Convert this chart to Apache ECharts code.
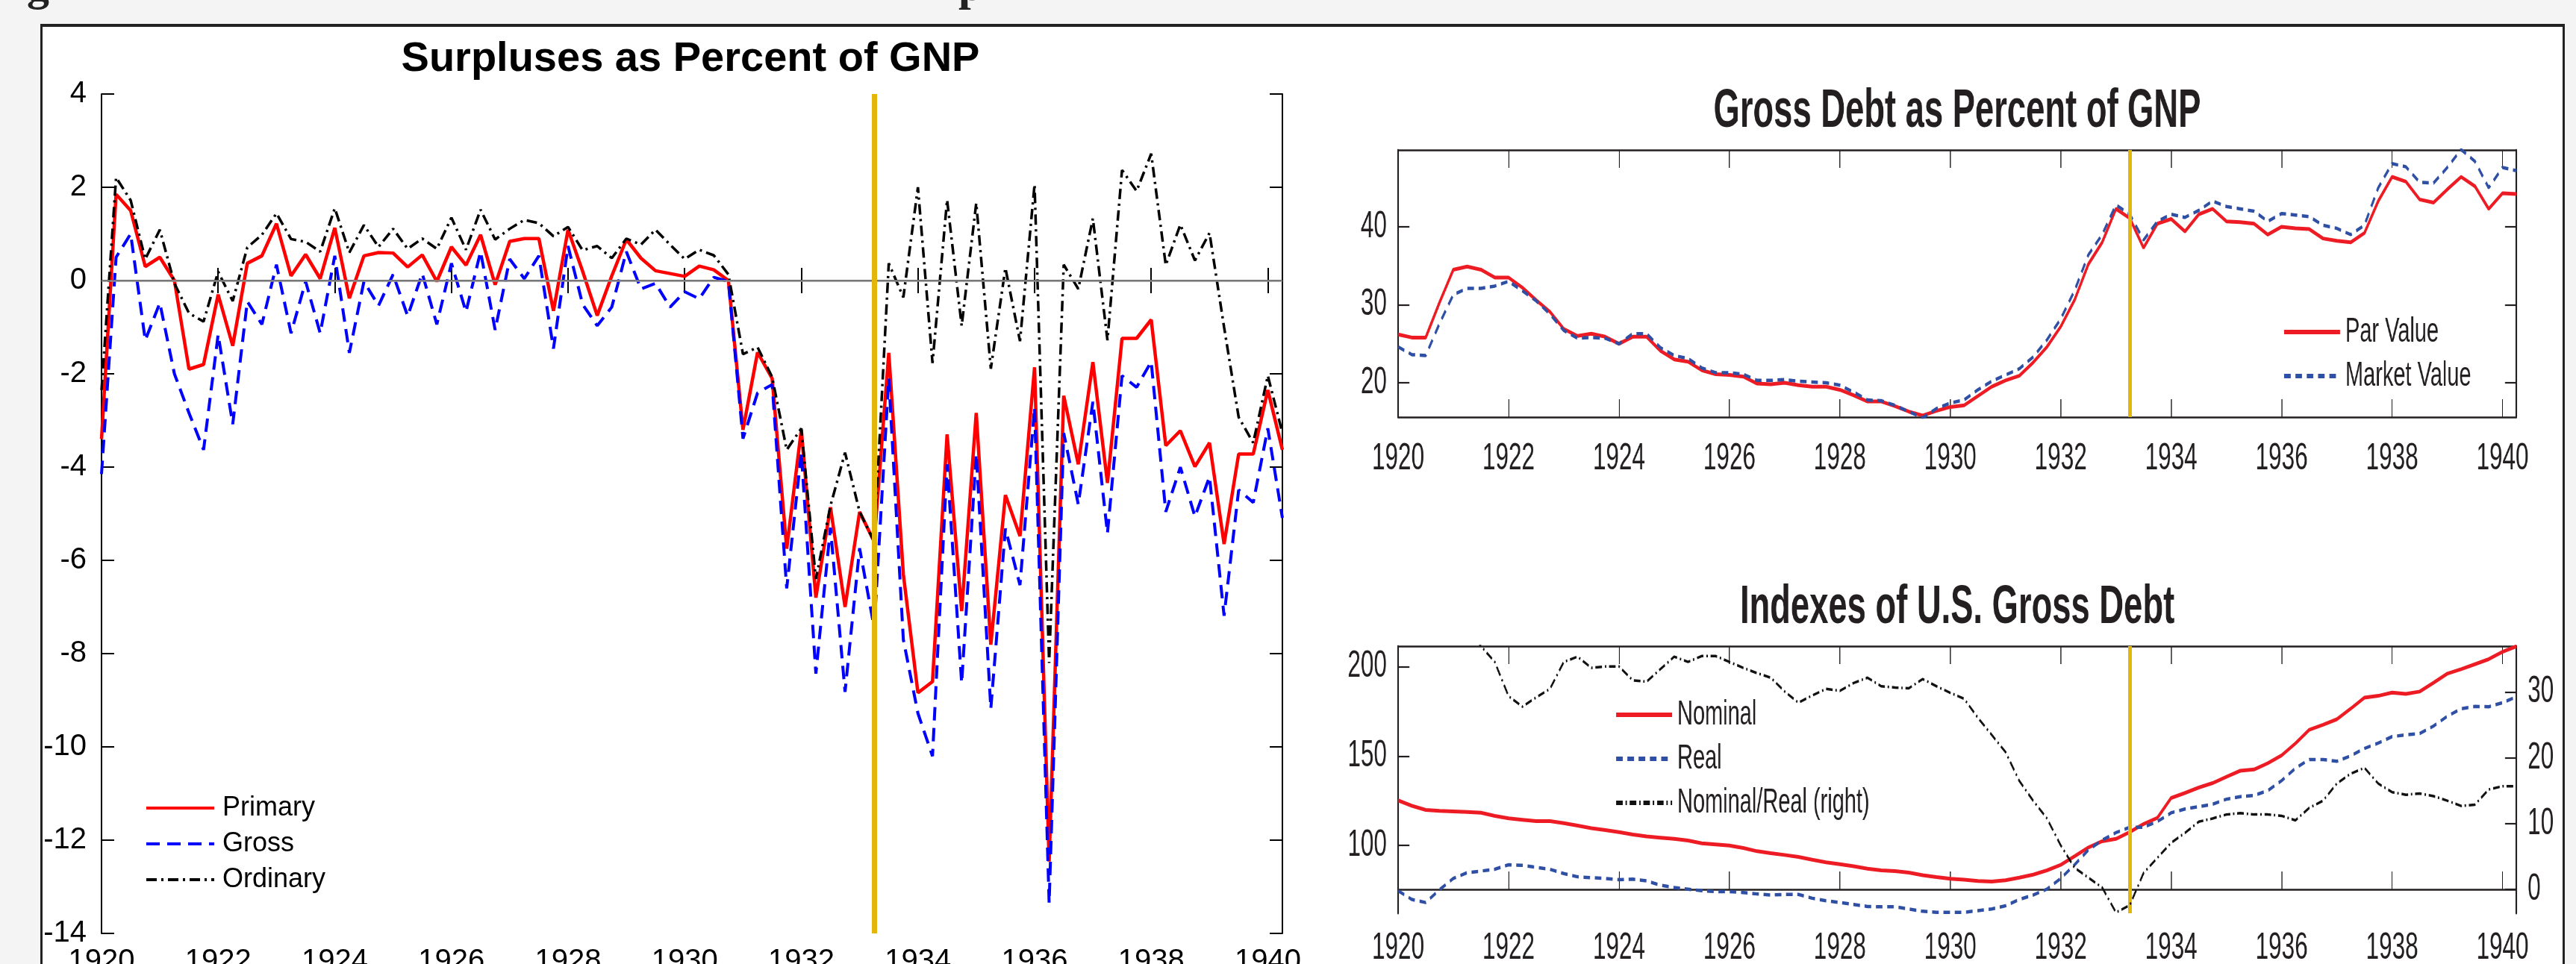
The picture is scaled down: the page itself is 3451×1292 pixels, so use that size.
<!DOCTYPE html>
<html>
<head>
<meta charset="utf-8">
<title>Surpluses and Gross Debt, 1920-1940</title>
<script src="https://cdn.jsdelivr.net/npm/echarts@6/dist/echarts.min.js"></script>
<style>
  html, body { margin: 0; padding: 0; background: #f3f4f3; overflow: hidden; }
  body { width: 3451px; height: 1292px; position: relative; }
  #panel { position: absolute; left: 54px; top: 32px; width: 3376px; height: 1400px; background: #fff; border: 3px solid #222; border-top-width: 4px; }
  #chartLeft { position: absolute; left: 0; top: 0; width: 1760px; height: 1400px; }
  #chartRight { position: absolute; left: 1700px; top: 0; width: 2780px; height: 1400px; transform: scaleX(0.63); transform-origin: 0 0; }
  .cap { position: absolute; top: -50px; font: bold 60px/60px "Liberation Serif", serif; color: #222; }
</style>
</head>
<body>
<div class="cap" style="left:36px">g</div>
<div class="cap" style="left:1284px">p</div>
<div id="panel"></div>
<div id="chartLeft"></div>
<div id="chartRight"></div>
<script>
// quarterly observations, 1920Q1 .. 1940Q2
const tickYears = [1920, 1922, 1924, 1926, 1928, 1930, 1932, 1934, 1936, 1938, 1940]
const quarters = []
for (let y = 1920; y <= 1940; y++) {
  for (let q = 0; q < 4; q++) {
    if (quarters.length < 82) quarters.push(y + q / 4)
  }
}
const fdrDate = 1933.25

// Surpluses as Percent of GNP
const primary = [
  -3.4, 1.85, 1.5, 0.3, 0.5, 0.0, -1.9, -1.8, -0.3, -1.4,
  0.37, 0.53, 1.22, 0.1, 0.56, 0.04, 1.13, -0.38, 0.53, 0.6,
  0.59, 0.29, 0.55, -0.02, 0.72, 0.33, 0.98, -0.09, 0.84, 0.9,
  0.9, -0.65, 1.09, 0.2, -0.75, 0.1, 0.88, 0.48, 0.21, 0.15,
  0.09, 0.31, 0.23, 0.0, -3.2, -1.54, -2.1, -5.75, -3.2, -6.8,
  -4.86, -7.0, -4.96, -5.6, -1.55, -6.3, -8.84, -8.6, -3.3, -7.09,
  -2.84, -7.81, -4.6, -5.48, -1.86, -12.46, -2.47, -3.94, -1.75, -4.34,
  -1.24, -1.24, -0.84, -3.54, -3.22, -3.99, -3.48, -5.65, -3.72, -3.72,
  -2.35, -3.63
]
const gross = [
  -4.15, 0.5, 1.0, -1.28, -0.48, -2.0, -2.84, -3.63, -1.16, -3.08,
  -0.45, -0.94, 0.34, -1.13, -0.02, -1.13, 0.53, -1.55, -0.02, -0.54,
  0.13, -0.76, 0.15, -0.94, 0.37, -0.67, 0.62, -1.06, 0.46, 0.04,
  0.53, -1.46, 0.74, -0.51, -0.97, -0.57, 0.62, -0.18, -0.06, -0.57,
  -0.24, -0.39, 0.07, -0.02, -3.39, -2.41, -2.23, -6.6, -3.69, -8.43,
  -5.3, -8.82, -5.74, -7.45, -2.1, -7.7, -9.28, -10.2, -3.94, -8.63,
  -3.72, -9.18, -5.32, -6.53, -2.72, -13.35, -3.27, -4.8, -2.6, -5.42,
  -2.04, -2.29, -1.74, -4.96, -4.0, -5.06, -4.21, -7.19, -4.49, -4.76,
  -3.17, -5.09
]
const ordinary = [
  -2.35, 2.21, 1.72, 0.46, 1.09, -0.06, -0.7, -0.88, 0.19, -0.44,
  0.71, 0.98, 1.44, 0.89, 0.83, 0.62, 1.55, 0.6, 1.19, 0.72,
  1.11, 0.68, 0.9, 0.68, 1.35, 0.66, 1.52, 0.88, 1.11, 1.3,
  1.23, 0.95, 1.15, 0.65, 0.74, 0.48, 0.9, 0.77, 1.09, 0.77,
  0.46, 0.66, 0.54, 0.13, -1.58, -1.43, -2.07, -3.63, -3.17, -6.4,
  -4.83, -3.69, -4.96, -5.6, 0.37, -0.36, 2.0, -1.77, 1.73, -0.97,
  1.66, -1.89, 0.27, -1.3, 2.06, -8.2, 0.34, -0.18, 1.33, -1.28,
  2.37, 1.92, 2.72, 0.33, 1.2, 0.43, 1.02, -1.0, -2.93, -3.48,
  -2.04, -3.27
]

// Gross Debt as Percent of GNP
const parValue = [
  26.2, 25.8, 25.8, 30.3, 34.5, 34.9, 34.5, 33.5, 33.5, 32.2,
  30.6, 29.1, 26.9, 26.0, 26.3, 25.9, 25.0, 25.9, 25.9, 24.1,
  23.0, 22.7, 21.6, 21.1, 21.0, 20.8, 19.9, 19.8, 20.0, 19.7,
  19.5, 19.5, 19.1, 18.4, 17.6, 17.6, 17.0, 16.3, 15.8, 16.4,
  16.9, 17.1, 18.3, 19.5, 20.3, 20.9, 22.6, 24.6, 27.2, 30.6,
  35.2, 38.0, 42.3, 41.1, 37.3, 40.4, 41.0, 39.4, 41.6, 42.3,
  40.7, 40.6, 40.4, 39.0, 40.0, 39.8, 39.7, 38.5, 38.2, 38.0,
  39.2, 43.3, 46.4, 45.8, 43.5, 43.1, 44.8, 46.4, 45.2, 42.3,
  44.3, 44.2
]
const marketValue = [
  24.6, 23.6, 23.5, 27.6, 31.3, 32.1, 32.1, 32.4, 33.0, 31.8,
  30.5, 28.8, 26.7, 25.7, 25.8, 25.7, 25.0, 26.3, 26.3, 24.5,
  23.5, 23.1, 21.9, 21.3, 21.3, 21.1, 20.3, 20.3, 20.4, 20.2,
  20.1, 20.0, 19.7, 18.8, 17.8, 17.7, 17.1, 16.3, 15.5, 16.7,
  17.4, 17.8, 19.1, 20.2, 21.0, 21.8, 23.3, 25.5, 28.2, 31.8,
  36.4, 39.0, 42.8, 41.6, 38.3, 40.7, 41.6, 41.2, 42.1, 43.3,
  42.6, 42.3, 42.0, 40.7, 41.7, 41.5, 41.3, 40.2, 39.8, 39.0,
  40.2, 45.0, 48.1, 47.7, 45.7, 45.6, 47.6, 49.9, 48.4, 45.0,
  47.6, 47.2
]

// Indexes of U.S. Gross Debt
const nominal = [
  125.2, 122.2, 119.9, 119.4, 119.1, 118.8, 118.3, 116.6, 115.2, 114.4,
  113.6, 113.6, 112.5, 111.1, 109.7, 108.6, 107.5, 106.1, 105.1, 104.4,
  103.7, 102.8, 101.2, 100.6, 100.0, 98.6, 96.8, 95.7, 94.7, 93.6,
  92.0, 90.6, 89.5, 88.4, 87.0, 86.1, 85.7, 84.8, 83.4, 82.3,
  81.4, 80.9, 80.1, 79.8, 80.6, 82.0, 83.7, 86.1, 89.2, 94.0,
  98.9, 102.4, 103.7, 107.5, 112.0, 115.5, 126.6, 129.4, 132.4, 134.9,
  138.4, 141.8, 142.5, 146.0, 150.4, 157.1, 164.7, 167.5, 170.6, 176.5,
  182.7, 183.7, 185.5, 184.8, 186.1, 191.0, 196.1, 198.6, 201.4, 204.2,
  208.3, 211.4
]
const real = [
  74.7, 69.8, 68.1, 75.3, 81.6, 84.8, 85.7, 86.7, 89.2, 88.9,
  87.8, 86.7, 84.3, 82.5, 82.0, 81.6, 80.9, 81.2, 80.2, 77.8,
  76.5, 75.6, 74.7, 74.2, 74.2, 73.7, 72.9, 72.3, 72.6, 72.6,
  70.5, 69.1, 68.1, 67.0, 65.9, 65.7, 65.7, 64.5, 63.2, 62.6,
  62.6, 62.6, 63.6, 64.5, 66.3, 69.8, 72.3, 75.6, 81.6, 89.2,
  97.5, 103.0, 107.2, 110.2, 110.2, 113.4, 118.3, 120.4, 121.7, 123.1,
  125.9, 127.3, 128.0, 130.7, 136.3, 143.2, 148.1, 148.1, 147.1, 150.1,
  154.3, 157.3, 160.9, 161.9, 162.6, 166.8, 172.3, 176.5, 177.8, 177.6,
  179.9, 183.1
]
const nominalOverReal = [
  67, 75, 76, 58, 46, 40, 37.0, 34.6, 29.4, 27.8,
  29.2, 30.5, 34.6, 35.4, 33.7, 33.9, 33.9, 31.8, 31.6, 33.5,
  35.4, 34.6, 35.5, 35.5, 34.6, 33.7, 32.9, 32.2, 30.1, 28.4,
  29.5, 30.5, 30.2, 31.4, 32.2, 30.9, 30.7, 30.6, 32.0, 30.9,
  29.9, 29.0, 26.1, 23.5, 20.9, 16.5, 13.5, 10.8, 6.7, 3.3,
  1.8, 0.3, -3.5, -2.4, 2.5, 4.8, 7.1, 8.6, 10.3, 10.8,
  11.4, 11.6, 11.4, 11.4, 11.2, 10.5, 12.4, 13.5, 16.1, 17.6,
  18.5, 16.1, 14.8, 14.4, 14.6, 14.2, 13.5, 12.7, 12.9, 15.2,
  15.7, 15.7
]

const pairs = vals => quarters.map((x, i) => [x, vals[i]])
const plain = v => String(v)

const FONT = '"Liberation Sans", Arial, Helvetica, sans-serif'
const YELLOW = '#e2b60a'

// ---------------- left panel ----------------
let chartLeft = echarts.init(document.getElementById('chartLeft'))

const leftX = (pos) => ({
  type: 'value',
  position: pos,
  min: 1920,
  max: 1940.25,
  axisLine: { show: true, lineStyle: { color: '#000', width: 2 } },
  axisTick: { show: true, inside: true, length: 17, customValues: tickYears, lineStyle: { color: '#000', width: 2 } },
  axisLabel: { show: pos === 'bottom', customValues: tickYears, formatter: plain, fontSize: 40, color: '#000', fontFamily: FONT, margin: 18 },
  splitLine: { show: false }
})
const leftY = (pos) => ({
  type: 'value',
  position: pos,
  min: -14,
  max: 4,
  interval: 2,
  axisLine: { show: true, onZero: false, lineStyle: { color: '#000', width: 2 } },
  axisTick: { show: true, inside: true, length: 17, lineStyle: { color: '#000', width: 2 } },
  axisLabel: { show: pos === 'left', formatter: plain, fontSize: 40, color: '#000', fontFamily: FONT, margin: 20 },
  splitLine: { show: false }
})

chartLeft.setOption({
  animation: false,
  backgroundColor: 'transparent',
  grid: { left: 136, top: 126, width: 1582, height: 1125, outerBoundsMode: 'none' },
  graphic: [{
    type: 'text', x: 925, y: 80,
    style: { text: 'Surpluses as Percent of GNP', fill: '#000', font: 'bold 56px ' + FONT, align: 'center', verticalAlign: 'middle' }
  }],
  legend: {
    data: ['Primary', 'Gross', 'Ordinary'],
    orient: 'vertical', left: 189, top: 1060,
    itemWidth: 91, itemHeight: 24, itemGap: 12,
    itemStyle: { opacity: 0 },
    lineStyle: { width: 4 },
    textStyle: { fontSize: 36, color: '#000', fontFamily: FONT, padding: [0, 0, 0, 6] }
  },
  xAxis: [leftX('bottom'), leftX('top')],
  yAxis: [leftY('left'), leftY('right')],
  series: [
    {
      name: 'zero', type: 'line', data: [], z: 1, silent: true,
      markLine: { symbol: 'none', silent: true, label: { show: false }, lineStyle: { color: '#8a8a8a', width: 2.5, type: 'solid' }, data: [{ yAxis: 0 }] }
    },
    {
      name: 'Primary', type: 'line', data: pairs(primary), symbol: 'none', z: 2,
      itemStyle: { color: '#ff0000' }, lineStyle: { color: '#ff0000', width: 4.5 }
    },
    {
      name: 'Gross', type: 'line', data: pairs(gross), symbol: 'none', z: 3,
      itemStyle: { color: '#0000ff' }, lineStyle: { color: '#0000ff', width: 4, type: [18, 10] }
    },
    {
      name: 'Ordinary', type: 'line', data: pairs(ordinary), symbol: 'none', z: 4,
      itemStyle: { color: '#000' }, lineStyle: { color: '#000', width: 3.5, type: [14, 6, 3, 6] }
    },
    {
      name: 'fdr', type: 'line', data: [], z: 10, silent: true,
      markLine: { symbol: 'none', silent: true, label: { show: false }, lineStyle: { color: YELLOW, width: 7, type: 'solid' }, data: [{ xAxis: fdrDate }] }
    }
  ]
})

// ---------------- right panels (horizontally condensed) ----------------
const K = 0.63
const OX = 1700
const ix = v => (v - OX) / K
const INK = '#231f20'
const RED = '#ed1c24'
const BLUE = '#2e4fa3'

let chartRight = echarts.init(document.getElementById('chartRight'))

const rightX = (grid, pos, margin) => ({
  type: 'value',
  gridIndex: grid,
  position: pos,
  min: 1920,
  max: 1940.25,
  axisLine: { show: true, lineStyle: { color: INK, width: 2.5 } },
  axisTick: { show: true, inside: true, length: 24, customValues: tickYears, lineStyle: { color: INK, width: 2 } },
  axisLabel: { show: pos === 'bottom', customValues: tickYears, formatter: plain, fontSize: 50, color: INK, fontFamily: FONT, margin: margin },
  splitLine: { show: false }
})
const rightY = (grid, pos, min, max, ticks, showLabel) => ({
  type: 'value',
  gridIndex: grid,
  position: pos,
  min: min,
  max: max,
  axisLine: { show: true, onZero: false, lineStyle: { color: INK, width: 3.2 } },
  axisTick: { show: true, inside: true, length: 24, customValues: ticks, lineStyle: { color: INK, width: 2.2 } },
  axisLabel: { show: showLabel, customValues: ticks, formatter: plain, fontSize: 50, color: INK, fontFamily: FONT, margin: 24 },
  splitLine: { show: false }
})

const gridLeft = ix(1873)
const gridWidth = (3371 - 1873) / K

chartRight.setOption({
  animation: false,
  backgroundColor: 'transparent',
  grid: [
    { left: gridLeft, top: 201, width: gridWidth, height: 358, outerBoundsMode: 'none' },
    { left: gridLeft, top: 866, width: gridWidth, height: 358, outerBoundsMode: 'none' }
  ],
  graphic: [
    {
      type: 'text', x: ix(2622), y: 150,
      style: { text: 'Gross Debt as Percent of GNP', fill: INK, font: 'bold 72px ' + FONT, align: 'center', verticalAlign: 'middle' }
    },
    {
      type: 'text', x: ix(2622), y: 815,
      style: { text: 'Indexes of U.S. Gross Debt', fill: INK, font: 'bold 72px ' + FONT, align: 'center', verticalAlign: 'middle' }
    }
  ],
  legend: [
    {
      data: ['Par Value', 'Market Value'],
      orient: 'vertical', left: ix(3055), top: 417,
      itemWidth: 119, itemHeight: 30, itemGap: 13,
      itemStyle: { opacity: 0 },
      lineStyle: { width: 6 },
      textStyle: { fontSize: 46, color: INK, fontFamily: FONT, padding: [0, 0, 0, 6] }
    },
    {
      data: ['Nominal', 'Real', 'Nominal/Real (right)'],
      orient: 'vertical', left: ix(2160), top: 930,
      itemWidth: 119, itemHeight: 30, itemGap: 13,
      itemStyle: { opacity: 0 },
      lineStyle: { width: 6 },
      textStyle: { fontSize: 46, color: INK, fontFamily: FONT, padding: [0, 0, 0, 6] }
    }
  ],
  xAxis: [
    rightX(0, 'bottom', 31), rightX(0, 'top', 0),
    rightX(1, 'bottom', 22), rightX(1, 'top', 0)
  ],
  yAxis: [
    rightY(0, 'left', 15.6, 49.85, [20, 30, 40], true),
    rightY(0, 'right', 15.6, 49.85, [20, 30, 40], false),
    rightY(1, 'left', 62.1, 211.5, [100, 150, 200], true),
    rightY(1, 'right', -3.62, 37, [0, 10, 20, 30], true)
  ],
  series: [
    {
      name: 'Par Value', type: 'line', xAxisIndex: 0, yAxisIndex: 0, data: pairs(parValue), symbol: 'none', z: 3,
      itemStyle: { color: RED }, lineStyle: { color: RED, width: 5 }
    },
    {
      name: 'Market Value', type: 'line', xAxisIndex: 0, yAxisIndex: 0, data: pairs(marketValue), symbol: 'none', z: 4,
      itemStyle: { color: BLUE }, lineStyle: { color: BLUE, width: 4.5, type: [14, 10] }
    },
    {
      name: 'fdr1', type: 'line', xAxisIndex: 0, yAxisIndex: 0, data: [], z: 10, silent: true,
      markLine: { symbol: 'none', silent: true, label: { show: false }, lineStyle: { color: YELLOW, width: 8, type: 'solid' }, data: [{ xAxis: fdrDate }] }
    },
    {
      name: 'Nominal', type: 'line', xAxisIndex: 2, yAxisIndex: 2, data: pairs(nominal), symbol: 'none', z: 3,
      itemStyle: { color: RED }, lineStyle: { color: RED, width: 5 }
    },
    {
      name: 'Real', type: 'line', xAxisIndex: 2, yAxisIndex: 2, data: pairs(real), symbol: 'none', z: 4,
      itemStyle: { color: BLUE }, lineStyle: { color: BLUE, width: 4.5, type: [14, 10] }
    },
    {
      name: 'Nominal/Real (right)', type: 'line', xAxisIndex: 2, yAxisIndex: 3, data: pairs(nominalOverReal), symbol: 'none', z: 5,
      itemStyle: { color: '#111' }, lineStyle: { color: '#111', width: 3.5, type: [14, 6, 3, 6] }
    },
    {
      name: 'fdr2', type: 'line', xAxisIndex: 2, yAxisIndex: 2, data: [], z: 10, silent: true,
      markLine: { symbol: 'none', silent: true, label: { show: false }, lineStyle: { color: YELLOW, width: 8, type: 'solid' }, data: [{ xAxis: fdrDate }] }
    }
  ]
})
</script>
</body>
</html>
